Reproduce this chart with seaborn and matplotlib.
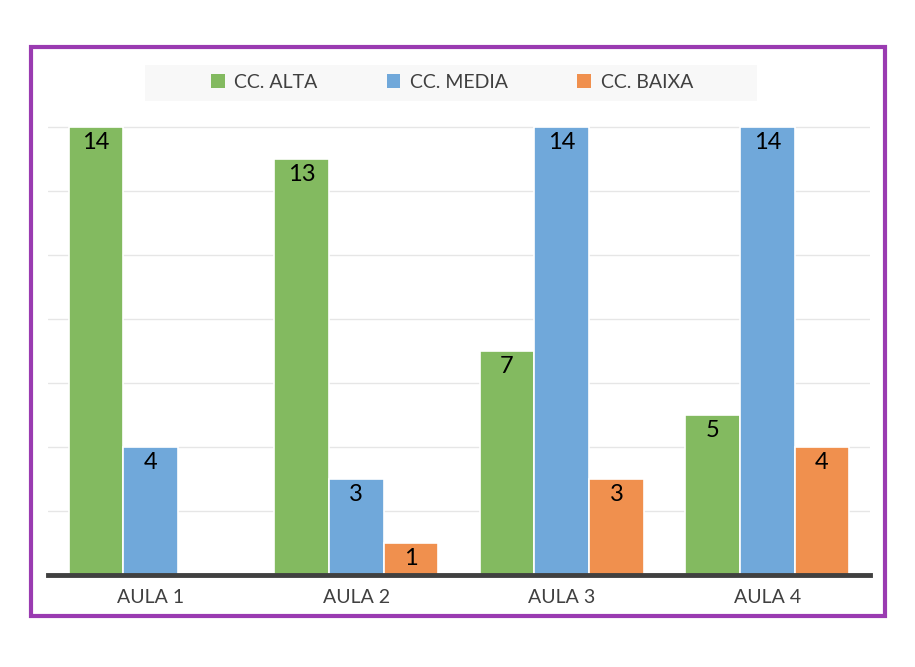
import matplotlib
matplotlib.use("Agg")
import matplotlib.pyplot as plt
import seaborn as sns
import pandas as pd
from matplotlib.patches import Rectangle, Patch

categories = ["AULA 1", "AULA 2", "AULA 3", "AULA 4"]
series = ["CC. ALTA", "CC. MEDIA", "CC. BAIXA"]
alta = [14, 13, 7, 5]
media = [4, 3, 14, 14]
baixa = [0, 1, 3, 4]
colors = ["#83BA60", "#70A8DA", "#F0904E"]

rows = []
for s, vals in zip(series, [alta, media, baixa]):
    for c, v in zip(categories, vals):
        rows.append({"aula": c, "serie": s, "valor": v})
df = pd.DataFrame(rows)

sns.set_theme(style="white")
plt.rcParams['font.family'] = ['Lato', 'DejaVu Sans']

fig = plt.figure(figsize=(9.15, 6.67), dpi=100)
ax = fig.add_axes([48/915, 1-575/667, (870-48)/915, (575-126)/667])

sns.barplot(data=df, x="aula", y="valor", hue="serie", palette=colors,
            width=0.8, edgecolor="white", linewidth=1.2, ax=ax, legend=False,
            saturation=1)

ax.set_xlim(-0.5, 3.5)
ax.set_ylim(0, 14.02)
ax.set_yticks([2, 4, 6, 8, 10, 12, 14])
ax.yaxis.grid(True, color="#E6E6E6", linewidth=1)
ax.set_axisbelow(True)
ax.tick_params(axis="y", left=False, labelleft=False)
ax.tick_params(axis="x", bottom=False, labelsize=14, labelcolor="#404040", pad=4)
ax.set_xlabel("")
ax.set_ylabel("")
for side in ["top", "right", "left"]:
    ax.spines[side].set_visible(False)
ax.spines["bottom"].set_color("#404040")
ax.spines["bottom"].set_linewidth(3.5)

for cont in ax.containers:
    for bar in cont:
        h = bar.get_height()
        if h > 0:
            ax.text(bar.get_x() + bar.get_width() / 2, h - 0.5, f"{int(h)}",
                    ha="center", va="center", fontsize=17, color="black")

# legend background band
fig.patches.append(Rectangle((145/915, 1-101/667), (757-145)/915, (101-65)/667,
                             transform=fig.transFigure, facecolor="#F8F8F8",
                             edgecolor="none", zorder=0))

handles = [Patch(facecolor=c, edgecolor="none") for c in colors]
leg = fig.legend(handles, series, loc="center", bbox_to_anchor=(452/915, 1-82/667),
                 ncol=3, frameon=False, fontsize=14, handlelength=0.7, handleheight=0.7,
                 columnspacing=3.55, handletextpad=0.5)
for t in leg.get_texts():
    t.set_color("#404040")

fig.patches.append(Rectangle((31/915, 1-616/667), (885-31)/915, (616-47)/667,
                             transform=fig.transFigure, fill=False,
                             edgecolor="#9A3BB1", linewidth=3, zorder=10))

fig.savefig("out.png", dpi=100, facecolor="white")
